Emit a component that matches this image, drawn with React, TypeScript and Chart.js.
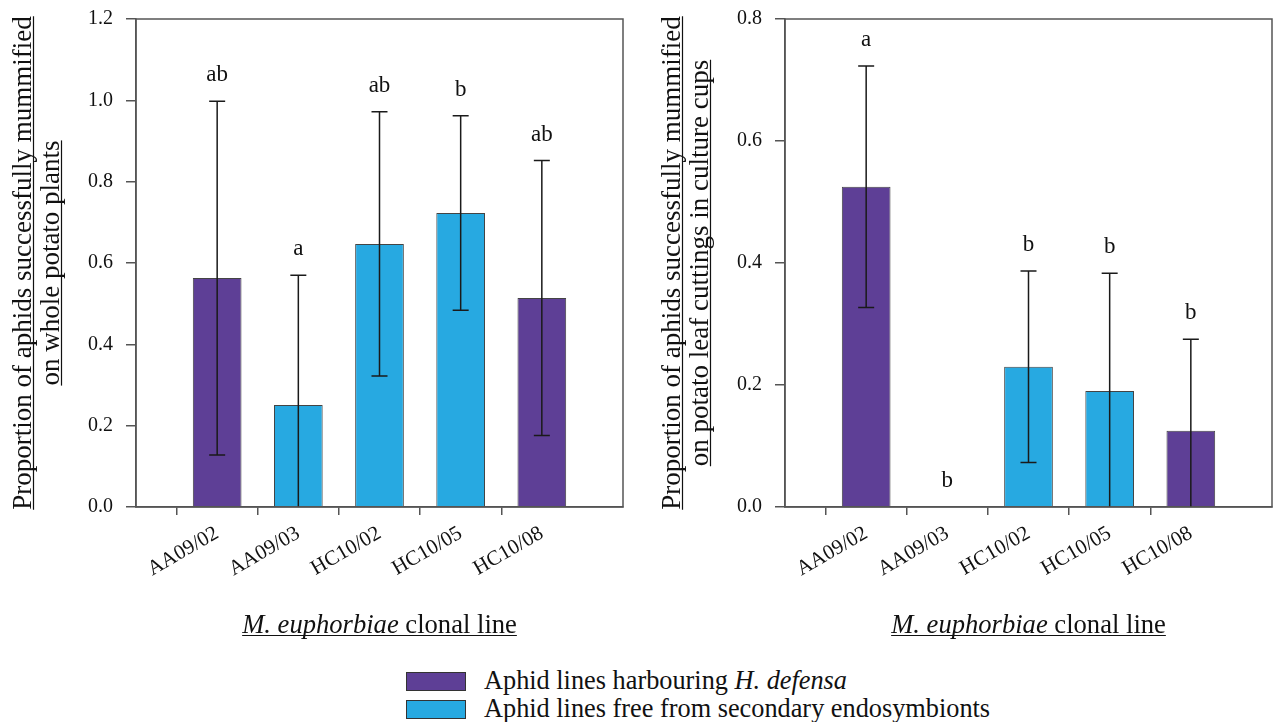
import React, { useEffect, useRef } from 'react';
import { Chart, registerables } from 'chart.js';

Chart.register(...registerables);

// ---- data ----
const clonalLines = ['AA09/02', 'AA09/03', 'HC10/02', 'HC10/05', 'HC10/08'];
const groups = ['H', 'F', 'F', 'F', 'H']; // H = harbouring H. defensa, F = free from secondary endosymbionts

const wholePlantMeans = [0.563, 0.251, 0.647, 0.723, 0.514];
const wholePlantErrors = [0.435, 0.319, 0.325, 0.239, 0.338];
const wholePlantLetters = ['ab', 'a', 'ab', 'b', 'ab'];
const wholePlantTitle = ['Proportion of aphids successfully mummified', 'on whole potato plants'];
const wholePlantMax = 1.2;

const cupMeans = [0.525, 0, 0.23, 0.19, 0.125];
const cupErrors = [0.198, 0, 0.157, 0.193, 0.15];
const cupLetters = ['a', 'b', 'b', 'b', 'b'];
const cupTitle = ['Proportion of aphids successfully mummified', 'on potato leaf cuttings in culture cups'];
const cupMax = 0.8;

const legendLabels = ['Aphid lines harbouring ', 'Aphid lines free from secondary endosymbionts'];

const PURPLE = '#5e3f96';
const BLUE = '#27a9e1';
const AXIS = '#555555';
const FONT = "'Liberation Serif', 'Times New Roman', serif";

type PanelProps = {
  left: number;
  width: number;
  means: number[];
  errors: number[];
  letters: string[];
  yMax: number;
  titleLines: string[];
  padRight: number;
};

function Panel({ left, width, means, errors, letters, yMax, titleLines, padRight }: PanelProps) {
  const ref = useRef<HTMLCanvasElement>(null);
  const height = 650;

  useEffect(() => {
    if (!ref.current) return;
    const labels = ['', ...clonalLines, ''];
    const data = [null, ...means, null];
    const colors = ['rgba(0,0,0,0)', ...groups.map((g) => (g === 'H' ? PURPLE : BLUE)), 'rgba(0,0,0,0)'];

    const extras = {
      id: 'extras',
      afterDatasetsDraw(chart: any) {
        const ctx = chart.ctx;
        const ys = chart.scales.y;
        const meta = chart.getDatasetMeta(0);
        const area = chart.chartArea;
        ctx.save();
        // error bars
        ctx.strokeStyle = '#1a1a1a';
        ctx.lineWidth = 1.5;
        means.forEach((m, i) => {
          const el = meta.data[i + 1];
          const x = el.x;
          const e = errors[i];
          const topV = m + e;
          if (e > 0) {
            const yT = ys.getPixelForValue(topV);
            const lowV = m - e;
            const yB = ys.getPixelForValue(Math.max(lowV, ys.min));
            ctx.beginPath();
            ctx.moveTo(x, yT);
            ctx.lineTo(x, yB);
            ctx.moveTo(x - 8, yT);
            ctx.lineTo(x + 8, yT);
            if (lowV > ys.min) {
              ctx.moveTo(x - 8, yB);
              ctx.lineTo(x + 8, yB);
            }
            ctx.stroke();
          }
          // significance letters
          ctx.fillStyle = '#111';
          ctx.font = `23px ${FONT}`;
          ctx.textAlign = 'center';
          ctx.textBaseline = 'middle';
          ctx.fillText(letters[i], x, ys.getPixelForValue(topV) - 26);
        });
        // frame
        ctx.strokeStyle = AXIS;
        ctx.lineWidth = 1.5;
        ctx.strokeRect(area.left, area.top, area.right - area.left, area.bottom - area.top);
        ctx.restore();
      },
      afterDraw(chart: any) {
        const ctx = chart.ctx;
        const area = chart.chartArea;
        ctx.save();
        ctx.fillStyle = '#111';
        ctx.strokeStyle = '#111';
        ctx.lineWidth = 1.2;
        // y title, rotated, underlined
        const cy = (area.top + area.bottom) / 2;
        const baselines = [31, 59];
        ctx.font = `27px ${FONT}`;
        ctx.textAlign = 'center';
        ctx.textBaseline = 'alphabetic';
        titleLines.forEach((t, i) => {
          ctx.save();
          ctx.translate(baselines[i], cy);
          ctx.rotate(-Math.PI / 2);
          ctx.fillText(t, 0, 0);
          const w = ctx.measureText(t).width;
          ctx.beginPath();
          ctx.moveTo(-w / 2, 2.5);
          ctx.lineTo(w / 2, 2.5);
          ctx.stroke();
          ctx.restore();
        });
        // x title: italic species + normal text, underlined
        const cx = (area.left + area.right) / 2;
        const by = 633;
        const fs = 26.6;
        ctx.textAlign = 'left';
        ctx.font = `italic ${fs}px ${FONT}`;
        const p1 = 'M. euphorbiae';
        const w1 = ctx.measureText(p1).width;
        ctx.font = `${fs}px ${FONT}`;
        const p2 = ' clonal line';
        const w2 = ctx.measureText(p2).width;
        const x0 = cx - (w1 + w2) / 2;
        ctx.font = `italic ${fs}px ${FONT}`;
        ctx.fillText(p1, x0, by);
        ctx.font = `${fs}px ${FONT}`;
        ctx.fillText(p2, x0 + w1, by);
        ctx.beginPath();
        ctx.moveTo(x0, by + 2.5);
        ctx.lineTo(x0 + w1 + w2, by + 2.5);
        ctx.stroke();
        ctx.restore();
      },
    };

    const chart = new Chart(ref.current, {
      type: 'bar',
      data: {
        labels,
        datasets: [
          {
            data,
            backgroundColor: colors,
            borderColor: '#444',
            borderWidth: 1,
            barPercentage: 0.6,
            categoryPercentage: 1,
          } as any,
        ],
      },
      options: {
        responsive: false,
        animation: false,
        devicePixelRatio: 1,
        layout: { padding: { top: 19, right: padRight, left: 0, bottom: 0 } },
        plugins: { legend: { display: false }, tooltip: { enabled: false } },
        scales: {
          x: {
            type: 'category',
            offset: false,
            grid: {
              display: true,
              drawOnChartArea: false,
              tickLength: 8,
              tickColor: (c: any) => (c.index === 0 || c.index === labels.length - 1 ? 'rgba(0,0,0,0)' : AXIS),
              lineWidth: 1.5,
            },
            border: { display: true, color: AXIS, width: 1.5 },
            ticks: {
              autoSkip: false,
              minRotation: 30,
              maxRotation: 30,
              padding: 6,
              color: '#111',
              font: { family: FONT, size: 21 },
            },
            afterFit: (s: any) => {
              s.height = height - 507;
              s.paddingLeft = 0;
              s.paddingRight = 0;
            },
          },
          y: {
            min: 0,
            max: yMax,
            grid: { display: true, drawOnChartArea: false, tickLength: 10, tickColor: AXIS, lineWidth: 1.5 },
            border: { display: true, color: AXIS, width: 1.5 },
            ticks: {
              stepSize: 0.2,
              padding: 13,
              color: '#111',
              font: { family: FONT, size: 20 },
              callback: (v: any) => Number(v).toFixed(1),
            },
            afterFit: (s: any) => {
              s.width = 136;
              s.paddingTop = 0;
              s.paddingBottom = 0;
            },
          },
        },
      },
      plugins: [extras],
    });
    return () => chart.destroy();
  }, []);

  return (
    <canvas
      ref={ref}
      width={width}
      height={height}
      style={{ position: 'absolute', left, top: 0, width, height }}
    />
  );
}

export default function App() {
  const legendColors = [PURPLE, BLUE];
  return (
    <div
      style={{
        position: 'absolute',
        left: 0,
        top: 0,
        width: 1278,
        height: 722,
        overflow: 'hidden',
        background: '#fff',
        fontFamily: FONT,
      }}
    >
      <Panel
        left={0}
        width={649}
        means={wholePlantMeans}
        errors={wholePlantErrors}
        letters={wholePlantLetters}
        yMax={wholePlantMax}
        titleLines={wholePlantTitle}
        padRight={26}
      />
      <Panel
        left={649}
        width={629}
        means={cupMeans}
        errors={cupErrors}
        letters={cupLetters}
        yMax={cupMax}
        titleLines={cupTitle}
        padRight={6}
      />
      {legendLabels.map((lab, i) => (
        <div
          key={i}
          style={{
            position: 'absolute',
            left: 406,
            top: 667 + i * 28,
            height: 28,
            display: 'flex',
            alignItems: 'center',
            whiteSpace: 'nowrap',
            color: '#111',
            fontSize: 26.3,
            lineHeight: '28px',
          }}
        >
          <span
            style={{
              display: 'inline-block',
              width: 58,
              height: 17,
              background: legendColors[i],
              border: '1px solid #333',
              marginRight: 18,
            }}
          />
          <span>
            {lab}
            {i === 0 ? <i>H. defensa</i> : null}
          </span>
        </div>
      ))}
    </div>
  );
}
